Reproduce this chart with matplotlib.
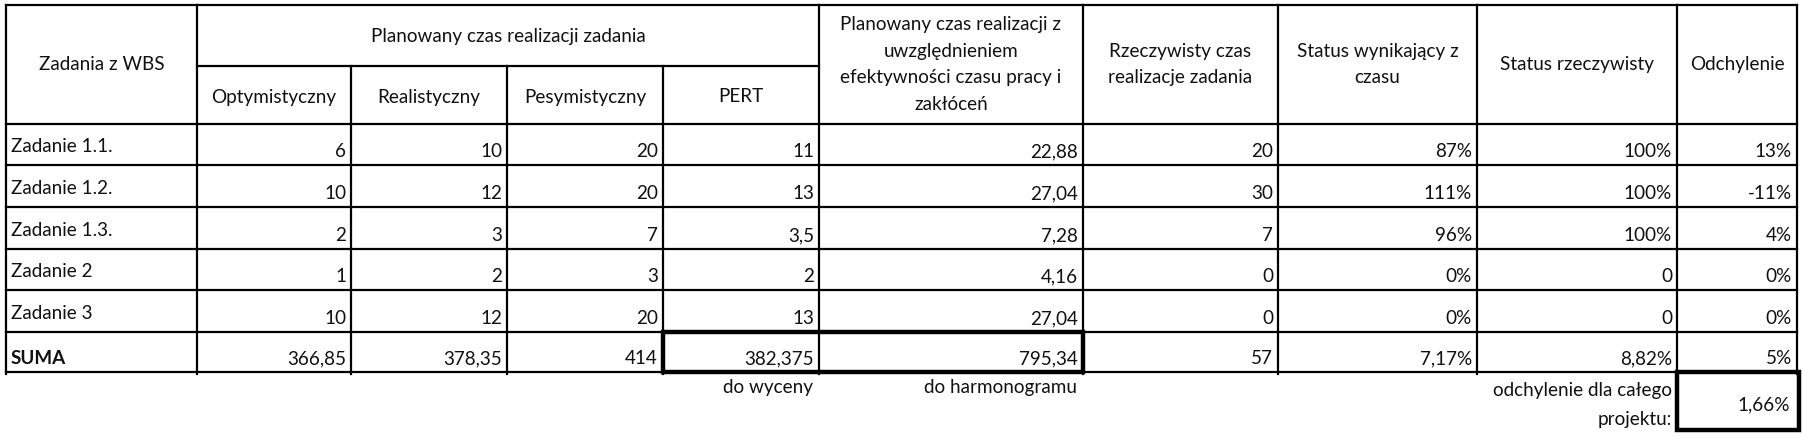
import matplotlib
matplotlib.use("Agg")
import matplotlib.pyplot as plt

plt.rcParams['font.family'] = ['Lato', 'DejaVu Sans']

# ---------------- data ----------------
tasks = ["Zadanie 1.1.", "Zadanie 1.2.", "Zadanie 1.3.", "Zadanie 2", "Zadanie 3", "SUMA"]
optimistic = [6, 10, 2, 1, 10, 366.85]
realistic = [10, 12, 3, 2, 12, 378.35]
pessimistic = [20, 20, 7, 3, 20, 414]
pert = [11, 13, 3.5, 2, 13, 382.375]
planned_eff = [22.88, 27.04, 7.28, 4.16, 27.04, 795.34]
actual_time = [20, 30, 7, 0, 0, 57]
status_time_pct = [87, 111, 96, 0, 0, 7.17]
status_real = [100, 100, 100, 0, 0, 8.82]
status_real_is_pct = [True, True, True, False, False, True]
deviation_pct = [13, -11, 4, 0, 0, 5]
project_deviation_pct = 1.66

group_header = "Planowany czas realizacji zadania"
sub_headers = ["Optymistyczny", "Realistyczny", "Pesymistyczny", "PERT"]
first_header = "Zadania z WBS"
right_headers = [["Planowany czas realizacji z", "uwzględnieniem",
                  "efektywności czasu pracy i", "zakłóceń"],
                 ["Rzeczywisty czas", "realizacje zadania"],
                 ["Status wynikający z", "czasu"],
                 ["Status rzeczywisty"],
                 ["Odchylenie"]]
note_pert = "do wyceny"
note_plan = "do harmonogramu"
note_dev = ["odchylenie dla całego", "projektu:"]


def fnum(v):
    return f"{v:g}".replace(".", ",")


def fpct(v):
    return f"{v:g}%".replace(".", ",")


# ---------------- layout (pixels) ----------------
W, H = 1803, 438
fig = plt.figure(figsize=(W / 100, H / 100), dpi=100)
ax = fig.add_axes([0, 0, 1, 1])
ax.set_xlim(0, W)
ax.set_ylim(H, 0)
ax.axis("off")

xs = [6, 197, 351, 507, 663, 819, 1083, 1278, 1477, 1677, 1797]
y_top, y_mid, y_head = 5, 66, 124
row_lines = [124, 165, 207, 249, 290, 332, 372]

FS = 13.6
LW = 1.6
LWT = 3.2
TC = "#111111"
LINE_H = 26.5


def hline(y, x0, x1, lw=LW):
    ax.plot([x0, x1], [y, y], color="black", lw=lw, solid_capstyle="projecting")


def vline(x, y0, y1, lw=LW):
    ax.plot([x, x], [y0, y1], color="black", lw=lw, solid_capstyle="projecting")


# grid
hline(y_top, xs[0], xs[-1])
hline(y_mid, xs[1], xs[5])
for y in row_lines:
    hline(y, xs[0], xs[-1])
for i, x in enumerate(xs):
    if 2 <= i <= 4:
        vline(x, y_mid, row_lines[-1] + 2)
    else:
        vline(x, y_top, row_lines[-1] + 2)

# thick boxes
ax.add_patch(plt.Rectangle((xs[4], row_lines[-2]), xs[6] - xs[4], row_lines[-1] - row_lines[-2],
                           fill=False, lw=LWT, ec="black", joinstyle="miter"))
ax.add_patch(plt.Rectangle((xs[9], 372), xs[10] + 2 - xs[9], 430 - 372,
                           fill=False, lw=LWT, ec="black", joinstyle="miter"))

# headers
ax.text((xs[0] + xs[1]) / 2, (y_top + y_head) / 2, first_header, ha="center", va="center",
        fontsize=FS, color=TC)
ax.text((xs[1] + xs[5]) / 2, (y_top + y_mid) / 2 + 1, group_header, ha="center", va="center",
        fontsize=FS, color=TC)
for i, h in enumerate(sub_headers):
    ax.text((xs[1 + i] + xs[2 + i]) / 2, (y_mid + y_head) / 2 + 2, h, ha="center", va="center",
            fontsize=FS, color=TC)
for i, lines in enumerate(right_headers):
    cx = (xs[5 + i] + xs[6 + i]) / 2
    cy = (y_top + y_head) / 2
    n = len(lines)
    for k, ln in enumerate(lines):
        ax.text(cx, cy + (k - (n - 1) / 2) * LINE_H, ln, ha="center", va="center",
                fontsize=FS, color=TC)

# body
columns = [
    [fnum(v) for v in optimistic],
    [fnum(v) for v in realistic],
    [fnum(v) for v in pessimistic],
    [fnum(v) for v in pert],
    [fnum(v) for v in planned_eff],
    [fnum(v) for v in actual_time],
    [fpct(v) for v in status_time_pct],
    [fpct(v) if p else fnum(v) for v, p in zip(status_real, status_real_is_pct)],
    [fpct(v) for v in deviation_pct],
]
for r, name in enumerate(tasks):
    y_bot = row_lines[r + 1]
    is_sum = name == "SUMA"
    ax.text(xs[0] + 5, y_bot - (8 if is_sum else 13), name, ha="left", va="baseline",
            fontsize=FS, color=TC, fontweight="bold" if is_sum else "normal")
    for c, col in enumerate(columns):
        ax.text(xs[c + 2] - 5, y_bot - 8, col[r], ha="right", va="baseline",
                fontsize=FS, color=TC)

# notes under the table
ax.text(xs[5] - 6, 393, note_pert, ha="right", va="baseline", fontsize=FS, color=TC)
ax.text(xs[6] - 6, 393, note_plan, ha="right", va="baseline", fontsize=FS, color=TC)
ax.text(xs[9] - 5, 396, note_dev[0], ha="right", va="baseline", fontsize=FS, color=TC)
ax.text(xs[9] - 5, 425, note_dev[1], ha="right", va="baseline", fontsize=FS, color=TC)
ax.text(xs[10] - 7, 410, fpct(project_deviation_pct), ha="right", va="baseline",
        fontsize=FS, color=TC)

fig.savefig("out.png", dpi=100, facecolor="white")
